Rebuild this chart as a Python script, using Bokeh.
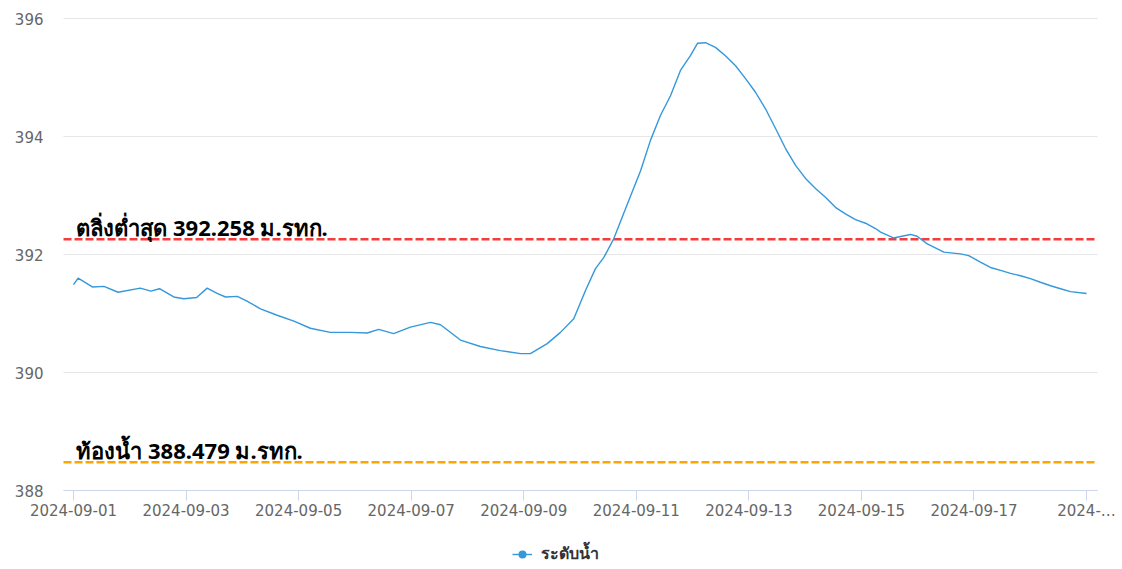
import pandas as pd
from bokeh.plotting import figure
from bokeh.models import (Range1d, FixedTicker, Label, Legend, LegendItem,
                          ColumnDataSource, DatetimeAxis, LinearAxis)
from bokeh.embed import file_html
from bokeh.resources import INLINE

# ---- data ----
times = [
    "2024-09-01 00:00", "2024-09-01 02:00", "2024-09-01 08:00", "2024-09-01 13:00",
    "2024-09-01 19:00", "2024-09-02 04:30", "2024-09-02 09:00", "2024-09-02 12:40",
    "2024-09-02 18:45", "2024-09-02 23:00", "2024-09-03 04:30", "2024-09-03 09:00",
    "2024-09-03 13:15", "2024-09-03 16:50", "2024-09-03 21:50", "2024-09-04 02:00",
    "2024-09-04 07:45", "2024-09-04 14:50", "2024-09-04 22:00", "2024-09-05 05:00",
    "2024-09-05 13:30", "2024-09-05 22:00", "2024-09-06 05:15", "2024-09-06 10:10",
    "2024-09-06 16:30", "2024-09-06 23:40", "2024-09-07 08:15", "2024-09-07 12:30",
    "2024-09-07 21:00", "2024-09-08 05:30", "2024-09-08 14:00", "2024-09-08 22:40",
    "2024-09-09 02:50", "2024-09-09 10:00", "2024-09-09 15:40", "2024-09-09 21:20",
    "2024-09-10 02:20", "2024-09-10 06:35", "2024-09-10 10:10", "2024-09-10 14:25",
    "2024-09-10 20:50", "2024-09-11 01:50", "2024-09-11 06:00", "2024-09-11 10:20",
    "2024-09-11 14:35", "2024-09-11 18:50", "2024-09-11 23:05", "2024-09-12 02:05",
    "2024-09-12 05:30", "2024-09-12 09:45", "2024-09-12 14:00", "2024-09-12 18:20",
    "2024-09-12 22:35", "2024-09-13 02:50", "2024-09-13 07:05", "2024-09-13 11:20",
    "2024-09-13 15:35", "2024-09-13 19:55", "2024-09-14 00:10", "2024-09-14 04:25",
    "2024-09-14 08:40", "2024-09-14 12:55", "2024-09-14 17:10", "2024-09-14 21:30",
    "2024-09-15 01:45", "2024-09-15 06:00", "2024-09-15 08:10", "2024-09-15 13:40",
    "2024-09-15 20:55", "2024-09-15 23:45", "2024-09-16 04:05", "2024-09-16 11:10",
    "2024-09-16 18:15", "2024-09-16 21:45", "2024-09-17 02:45", "2024-09-17 07:00",
    "2024-09-17 11:20", "2024-09-17 15:35", "2024-09-17 19:50", "2024-09-18 00:05",
    "2024-09-18 04:20", "2024-09-18 08:40", "2024-09-18 12:55", "2024-09-18 17:10",
    "2024-09-19 00:00",
]
water_level = [
    391.49, 391.60, 391.45, 391.46, 391.36, 391.43, 391.38, 391.42,
    391.28, 391.25, 391.27, 391.43, 391.34, 391.28, 391.29, 391.21,
    391.08, 390.97, 390.87, 390.75, 390.68, 390.68, 390.67, 390.73,
    390.66, 390.77, 390.85, 390.81, 390.55, 390.44, 390.37, 390.32,
    390.32, 390.49, 390.68, 390.91, 391.39, 391.76, 391.95, 392.27,
    392.92, 393.42, 393.93, 394.36, 394.69, 395.12, 395.37, 395.58,
    395.59, 395.51, 395.37, 395.20, 394.98, 394.75, 394.47, 394.14,
    393.80, 393.51, 393.29, 393.12, 392.97, 392.80, 392.69, 392.59,
    392.53, 392.44, 392.38, 392.28, 392.34, 392.31, 392.18, 392.04,
    392.01, 391.98, 391.87, 391.78, 391.73, 391.68, 391.64, 391.59,
    391.53, 391.47, 391.42, 391.37, 391.34,
]
bank_level = 392.258
bed_level = 388.479
bank_text = "ตลิ่งต่ำสุด 392.258 ม.รทก."
bed_text = "ท้องน้ำ 388.479 ม.รทก."
series_name = "ระดับน้ำ"
tick_dates = ["2024-09-01", "2024-09-03", "2024-09-05", "2024-09-07", "2024-09-09",
              "2024-09-11", "2024-09-13", "2024-09-15", "2024-09-17", "2024-09-19"]
tick_labels = ["2024-09-01", "2024-09-03", "2024-09-05", "2024-09-07", "2024-09-09",
               "2024-09-11", "2024-09-13", "2024-09-15", "2024-09-17", "2024-…"]
y_ticks = [388, 390, 392, 394, 396]
y_min, y_max = 388, 396

# ---- geometry (pixels of the plot area inside a 1122x569 canvas) ----
W, H = 1122, 569
PLOT_L, PLOT_R, PLOT_T, PLOT_B = 63, 1097, 18, 490
FIRST_TICK_PX, PX_PER_DAY = 73, 56.28

def ms(s):
    return pd.Timestamp(s).value / 1e6

day = 86400000.0
t0 = ms(tick_dates[0])
px_per_unit = (PLOT_B - PLOT_T) / (y_max - y_min)

x_start = t0 - FIRST_TICK_PX / PX_PER_DAY * day
x_end = t0 + (W - FIRST_TICK_PX) / PX_PER_DAY * day
plot_left = t0 - (FIRST_TICK_PX - PLOT_L) / PX_PER_DAY * day
plot_right = t0 + (PLOT_R - FIRST_TICK_PX) / PX_PER_DAY * day
y_top = y_max + PLOT_T / px_per_unit
y_bottom = y_min - (H - PLOT_B) / px_per_unit

src = ColumnDataSource(dict(t=pd.to_datetime(times), v=water_level))

p = figure(width=W, height=H, x_axis_location=None, y_axis_location=None,
           x_range=Range1d(x_start, x_end), y_range=Range1d(y_bottom, y_top),
           output_backend="svg", toolbar_location=None,
           min_border=0, min_border_left=0, min_border_right=0,
           min_border_top=0, min_border_bottom=0)
p.outline_line_color = None
p.background_fill_color = "white"
p.border_fill_color = "white"
p.grid.visible = False

# horizontal grid lines limited to the plot area
grid_src = ColumnDataSource(dict(y=y_ticks))
p.segment(x0=plot_left, x1=plot_right, y0="y", y1="y", source=grid_src,
          line_color="#e6e6e6", line_width=1)

# reference levels
lvl_src = ColumnDataSource(dict(y=[bank_level, bed_level],
                                c=["#f53b3b", "#ffa500"]))
p.segment(x0=plot_left, x1=plot_right, y0="y", y1="y", source=lvl_src,
          line_color="c", line_width=2.5, line_dash="8 3")

LINE_COLOR = "#3498db"
line_r = p.line("t", "v", source=src, line_color=LINE_COLOR, line_width=1.4)
dot_r = p.scatter("t", "v", source=src, size=0, line_alpha=0,
                  fill_color=LINE_COLOR)

# axes
yaxis = LinearAxis(fixed_location=plot_left, ticker=FixedTicker(ticks=y_ticks),
                   axis_line_color=None, major_tick_line_color=None,
                   minor_tick_line_color=None, major_tick_out=0, major_tick_in=0,
                   major_label_standoff=20, major_label_text_font="DejaVu Sans",
                   major_label_text_font_size="15px",
                   major_label_text_color="#666666")
p.add_layout(yaxis, "left")

tick_ms = [ms(d) for d in tick_dates]
xaxis = DatetimeAxis(fixed_location=y_min, ticker=FixedTicker(ticks=tick_ms),
                     bounds=(plot_left, plot_right),
                     major_label_overrides={k: lab for k, lab in zip(tick_ms, tick_labels)},
                     axis_line_color="#ccd6eb", major_tick_line_color="#ccd6eb",
                     major_tick_out=10, major_tick_in=0, minor_tick_line_color=None,
                     major_label_standoff=1, major_label_text_font="DejaVu Sans",
                     major_label_text_font_size="15px",
                     major_label_text_color="#666666")
p.add_layout(xaxis, "below")

lx = t0 + 0.05 * day
for yv, txt in [(bank_level, bank_text), (bed_level, bed_text)]:
    p.add_layout(Label(x=lx, y=yv, text=txt, y_offset=12,
                       text_font="Noto Sans", text_font_style="bold",
                       text_font_size="22px", text_color="#000000",
                       text_baseline="alphabetic"))

legend = Legend(items=[LegendItem(label=series_name, renderers=[line_r, dot_r])],
                location=(512, 3), orientation="horizontal",
                border_line_color=None, background_fill_alpha=0,
                label_text_font="Noto Sans", label_text_font_style="bold",
                label_text_font_size="16px", label_text_color="#333333",
                glyph_width=20, glyph_height=22, label_height=20,
                label_standoff=9, margin=0, padding=0)
p.add_layout(legend, "center")

open("out.html", "w").write(file_html(p, INLINE))
